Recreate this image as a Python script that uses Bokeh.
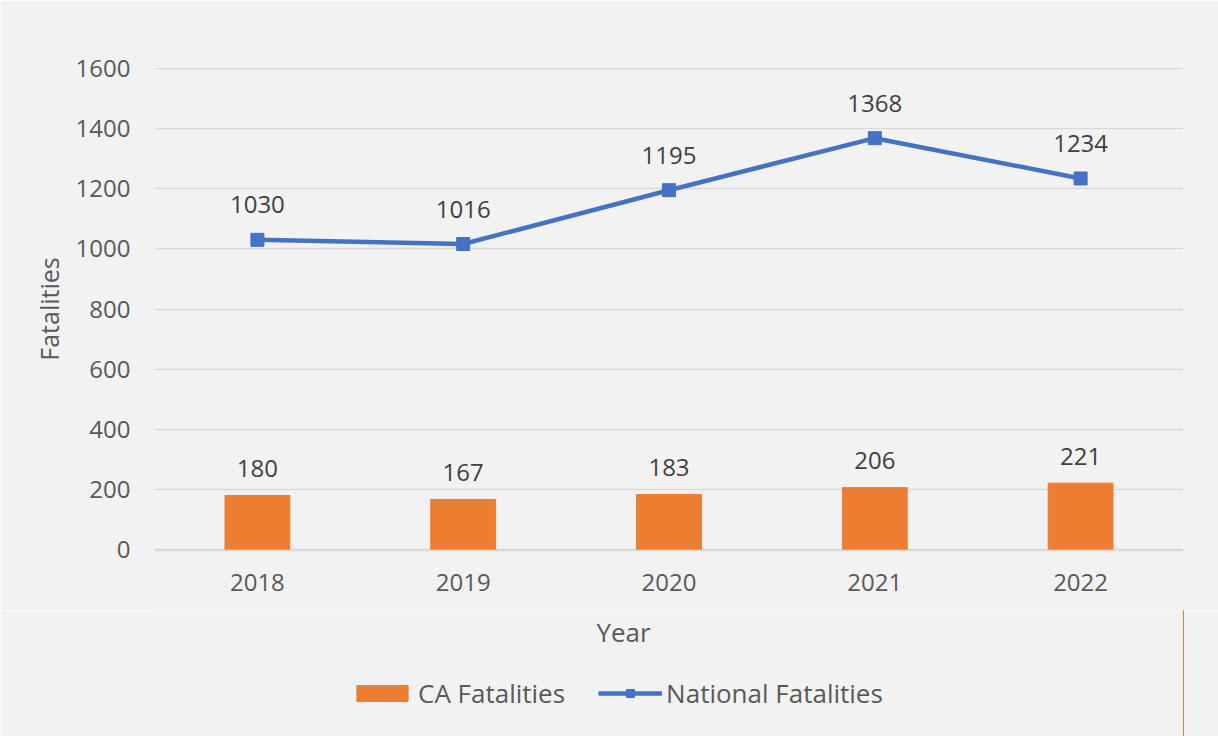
from bokeh.plotting import figure
from bokeh.layouts import column
from bokeh.models import Range1d, FixedTicker, Legend, LegendItem, Label, ColumnDataSource
from bokeh.core.properties import value
from bokeh.embed import file_html
from bokeh.resources import INLINE

years = ["2018", "2019", "2020", "2021", "2022"]
ca_fatalities = [180, 167, 183, 206, 221]
national_fatalities = [1030, 1016, 1195, 1368, 1234]
y_ticks = [0, 200, 400, 600, 800, 1000, 1200, 1400, 1600]

FONT = "Open Sans"
TXT = "#595959"
LBL = "#404040"
BG = "#f2f2f2"
ORANGE = "#ed7d31"
BLUE = "#4472c4"

src = ColumnDataSource(dict(
    year=years,
    ca=ca_fatalities,
    nat=national_fatalities,
    ca_lbl=[str(v) for v in ca_fatalities],
    nat_lbl=[str(v) for v in national_fatalities],
))

# ---------------- main chart ----------------
p = figure(x_range=years, y_range=Range1d(-3, 1603), width=1218, height=610,
           output_backend="svg", toolbar_location=None,
           min_border_left=154, min_border_right=35, min_border_top=67, min_border_bottom=60,
           background_fill_color=BG, border_fill_color=BG, outline_line_color=None)

p.vbar(x="year", top="ca", width=0.315, color=ORANGE, source=src)
p.line(x="year", y="nat", line_width=4.5, color=BLUE, source=src)
p.scatter(x="year", y="nat", marker="square", size=13, color=BLUE, source=src)

p.text(x="year", y="ca", text="ca_lbl", source=src, text_align="center", text_baseline="middle",
       y_offset=-27, text_font=value(FONT), text_font_size="24px", text_color=LBL)
p.text(x="year", y="nat", text="nat_lbl", source=src, text_align="center", text_baseline="middle",
       y_offset=-35, text_font=value(FONT), text_font_size="24px", text_color=LBL)

p.xgrid.grid_line_color = None
p.ygrid.ticker = FixedTicker(ticks=y_ticks)
p.ygrid.grid_line_color = "#d9d9d9"
p.ygrid.grid_line_width = 1.5

p.xaxis.axis_line_color = "#d9d9d9"
p.xaxis.axis_line_width = 1.5
p.xaxis.major_tick_line_color = None
p.xaxis.minor_tick_line_color = None
p.xaxis.major_label_text_font = FONT
p.xaxis.major_label_text_font_size = "24px"
p.xaxis.major_label_text_color = TXT
p.xaxis.major_label_standoff = 17

p.yaxis.ticker = FixedTicker(ticks=y_ticks)
p.yaxis.axis_line_color = None
p.yaxis.major_tick_line_color = None
p.yaxis.minor_tick_line_color = None
p.yaxis.major_label_text_font = FONT
p.yaxis.major_label_text_font_size = "24px"
p.yaxis.major_label_text_color = TXT
p.yaxis.major_label_standoff = 18
p.yaxis.axis_label = "Fatalities"
p.yaxis.axis_label_text_font = FONT
p.yaxis.axis_label_text_font_style = "normal"
p.yaxis.axis_label_text_font_size = "25px"
p.yaxis.axis_label_text_color = TXT
p.yaxis.axis_label_standoff = 7

# ---------------- x-axis title + legend strip ----------------
lf = figure(width=1218, height=126, output_backend="svg", toolbar_location=None,
            x_range=Range1d(0, 1), y_range=Range1d(0, 1),
            x_axis_location=None, y_axis_location=None,
            min_border_left=154, min_border_right=35, min_border_top=0, min_border_bottom=0,
            background_fill_color=BG, border_fill_color=BG, outline_line_color=None)
lf.xgrid.grid_line_color = None
lf.ygrid.grid_line_color = None

# legend proxies (drawn out of view, only their legend glyphs show)
lg_bar = lf.vbar(x="ca", top="nat", width=0.3, color=ORANGE, source=src)
lg_line = lf.line(x="ca", y="nat", line_width=4.5, color=BLUE, source=src)
lg_mark = lf.scatter(x="ca", y="nat", marker="square", size=13, color=BLUE, source=src)

lf.add_layout(Label(x=469, y=105, x_units="screen", y_units="screen", text="Year",
                    text_align="center", text_baseline="middle", text_font=FONT,
                    text_font_size="26px", text_color=TXT))

legend = Legend(items=[LegendItem(label="CA Fatalities", renderers=[lg_bar]),
                       LegendItem(label="National Fatalities", renderers=[lg_line, lg_mark])],
                orientation="horizontal", location=(196, 25),
                glyph_width=64, glyph_height=20, label_standoff=4, spacing=33,
                padding=0, margin=0, border_line_color=None, background_fill_alpha=0,
                label_text_font=FONT, label_text_font_size="26px", label_text_color=TXT)
lf.add_layout(legend)

layout = column(p, lf, spacing=0)
html = file_html(layout, INLINE)
open("out.html", "w").write(html)
